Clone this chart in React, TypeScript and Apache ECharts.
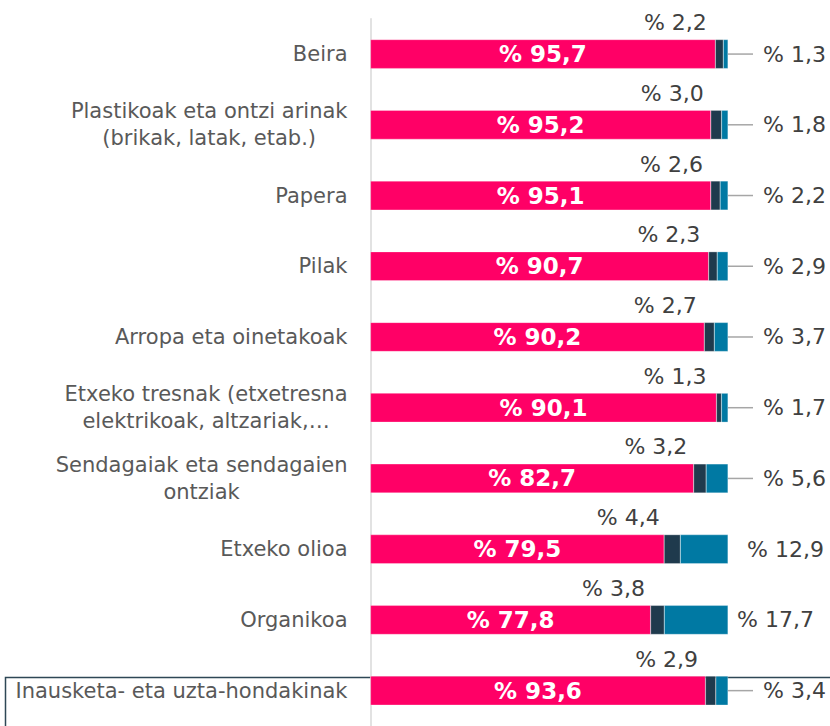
import React, { useEffect, useRef } from "react";
import * as echarts from "echarts";

const categories: string[] = [
  "Beira",
  "Plastikoak eta ontzi arinak\n(brikak, latak, etab.)",
  "Papera",
  "Pilak",
  "Arropa eta oinetakoak",
  "Etxeko tresnak (etxetresna\nelektrikoak, altzariak,…",
  "Sendagaiak eta sendagaien\nontziak",
  "Etxeko olioa",
  "Organikoa",
  "Inausketa- eta uzta-hondakinak",
];

const mainValues: number[] = [95.7, 95.2, 95.1, 90.7, 90.2, 90.1, 82.7, 79.5, 77.8, 93.6];
const midValues: number[] = [2.2, 3.0, 2.6, 2.3, 2.7, 1.3, 3.2, 4.4, 3.8, 2.9];
const restValues: number[] = [1.3, 1.8, 2.2, 2.9, 3.7, 1.7, 5.6, 12.9, 17.7, 3.4];

const seriesNames: string[] = ["Bai", "Batzuetan", "Ez"];

const FONT = "'DejaVu Sans', Verdana, sans-serif";
const fmt = (v: number) => "% " + v.toFixed(1).replace(".", ",");

export default function App() {
  const ref = useRef<HTMLDivElement>(null);

  useEffect(() => {
    if (!ref.current) return;
    const chart = echarts.init(ref.current, undefined, { renderer: "svg" });
    const totals = categories.map((_, i) => mainValues[i] + midValues[i] + restValues[i]);
    const share = (arr: number[]) => arr.map((v, i) => (v / totals[i]) * 100);

    const mainShare = share(mainValues);
    const midShare = share(midValues);
    const restShare = share(restValues);

    const restData = restShare.map((s, i) => {
      const raw = restValues[i];
      const small = raw < 10;
      return {
        value: s,
        label: { distance: small ? 0 : raw < 15 ? 19 : 9 },
      };
    });

    chart.setOption({
      animation: false,
      grid: { left: 370.5, width: 357.5, top: 18.7, height: 717, containLabel: false },
      xAxis: {
        type: "value",
        min: 0,
        max: 100,
        show: false,
      },
      yAxis: {
        type: "category",
        inverse: true,
        data: categories,
        axisLine: { show: true, lineStyle: { color: "#d9d9d9", width: 1.5 } },
        axisTick: { show: false },
        axisLabel: {
          margin: 23,
          align: "right",
          formatter: (v: string) =>
            v
              .split("\n")
              .map((l) => `{c|${l}}`)
              .join("\n"),
          rich: {
            c: {
              align: "center",
              fontSize: 21,
              fontFamily: FONT,
              color: "#595959",
              lineHeight: 27,
            },
          },
        },
      },
      graphic: [
        {
          type: "rect",
          z: 0,
          shape: { x: 5.5, y: 677.5, width: 900, height: 100 },
          style: { fill: "none", stroke: "#2e4756", lineWidth: 1.5 },
          silent: true,
        },
      ],
      series: [
        {
          name: seriesNames[0],
          type: "bar",
          stack: "total",
          barWidth: 29,
          data: mainShare,
          itemStyle: { color: "#ff0066", borderColor: "#ffffff", borderWidth: 0.3 },
          label: {
            show: true,
            position: "inside",
            color: "#ffffff",
            fontWeight: "bold",
            fontSize: 23,
            fontFamily: FONT,
            formatter: (p: any) => fmt(mainValues[p.dataIndex]),
          },
          z: 3,
        },
        {
          name: seriesNames[1],
          type: "bar",
          stack: "total",
          barWidth: 29,
          data: midShare,
          itemStyle: { color: "#1f3a4d", borderColor: "#ffffff", borderWidth: 0.3 },
          label: {
            show: true,
            position: "top",
            distance: 6,
            offset: [-44, 0],
            color: "#404040",
            fontSize: 22,
            fontFamily: FONT,
            formatter: (p: any) => fmt(midValues[p.dataIndex]),
          },
          z: 3,
        },
        {
          name: seriesNames[2],
          type: "bar",
          stack: "total",
          barWidth: 29,
          data: restData,
          itemStyle: { color: "#0079a3", borderColor: "#ffffff", borderWidth: 0.3 },
          label: {
            show: true,
            position: "right",
            color: "#404040",
            fontSize: 22,
            fontFamily: FONT,
            formatter: (p: any) => {
              const raw = restValues[p.dataIndex];
              return raw < 10 ? `{l| }{g| }{t|${fmt(raw)}}` : `{t|${fmt(raw)}}`;
            },
            rich: {
              l: { width: 25, height: 1.5, lineHeight: 26, backgroundColor: "#a6a6a6" },
              g: { width: 10 },
              t: { fontSize: 22, fontFamily: FONT, color: "#404040" },
            },
          },
          z: 3,
        },
      ],
    });
    return () => chart.dispose();
  }, []);

  return (
    <div
      style={{
        position: "fixed",
        left: 0,
        top: 0,
        width: 830,
        height: 726,
        overflow: "hidden",
        background: "#ffffff",
      }}
    >
      <div ref={ref} style={{ width: 830, height: 726 }} />
    </div>
  );
}
